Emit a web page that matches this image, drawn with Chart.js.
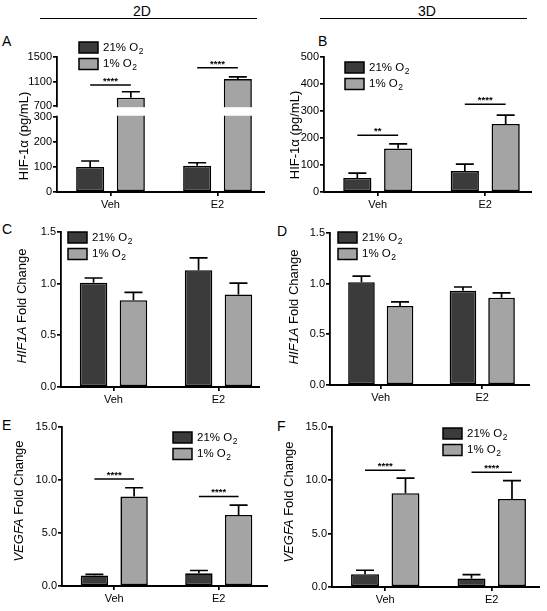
<!DOCTYPE html>
<html>
<head>
<meta charset="utf-8">
<script src="https://cdn.jsdelivr.net/npm/chart.js@4.4.0/dist/chart.umd.min.js"></script>
<style>
  body { margin: 0; background: #fff; }
  #wrap { position: relative; width: 547px; height: 611px; font-family: "Liberation Sans", Arial, sans-serif; color: #000; }
  canvas { position: absolute; left: 0; top: 0; }
  .lbl { position: absolute; font-size: 14px; line-height: 14px; }
  .hd { position: absolute; font-size: 14px; line-height: 14px; width: 60px; text-align: center; }
  .hline { position: absolute; height: 0; border-top: 1.5px solid #000; }
</style>
</head>
<body>
<div id="wrap">
  <div class="hd" style="left:112px;top:4px">2D</div>
  <div class="hline" style="left:40px;top:18px;width:217px"></div>
  <div class="hd" style="left:397px;top:4px">3D</div>
  <div class="hline" style="left:320px;top:18px;width:207px"></div>
  <div class="lbl" style="left:2px;top:34px">A</div>
  <div class="lbl" style="left:318px;top:34px">B</div>
  <div class="lbl" style="left:2px;top:222px">C</div>
  <div class="lbl" style="left:277px;top:224px">D</div>
  <div class="lbl" style="left:2px;top:418px">E</div>
  <div class="lbl" style="left:277px;top:419px">F</div>
  <canvas id="cA" width="547" height="611"></canvas>
  <canvas id="cB" width="547" height="611"></canvas>
  <canvas id="cC" width="547" height="611"></canvas>
  <canvas id="cD" width="547" height="611"></canvas>
  <canvas id="cE" width="547" height="611"></canvas>
  <canvas id="cF" width="547" height="611"></canvas>
</div>
<script>
var FONT = '"Liberation Sans", Arial, sans-serif';
var groups = ['Veh', 'E2'];
var seriesLabels = ['21% O₂', '1% O₂'];
var seriesColors = ['#3b3b3b', '#a4a4a4'];

// A - HIF-1a protein, 2D (broken axis)
var ticksA = [0, 100, 200, 300, 700, 1100, 1500];
var prot2D_21 = [100, 105];
var prot2D_21sem = [24, 12];
var prot2D_1 = [835, 1140];
var prot2D_1sem = [98, 37];
var sig2D = [1042, 1325];
var sigMarks2D = ['****', '****'];

// B - HIF-1a protein, 3D
var prot3D_21 = [52, 78];
var prot3D_21sem = [18, 25];
var prot3D_1 = [161, 252];
var prot3D_1sem = [17, 33];
var sig3D = [210, 325];
var sigMarks3D = ['**', '****'];

// C - HIF1A mRNA, 2D
var hif2D_21 = [1.01, 1.13];
var hif2D_21sem = [0.045, 0.12];
var hif2D_1 = [0.84, 0.895];
var hif2D_1sem = [0.075, 0.11];

// D - HIF1A mRNA, 3D
var hif3D_21 = [1.015, 0.93];
var hif3D_21sem = [0.06, 0.037];
var hif3D_1 = [0.78, 0.862];
var hif3D_1sem = [0.04, 0.048];

// E - VEGFA mRNA, 2D
var vegf2D_21 = [1.0, 1.2];
var vegf2D_21sem = [0.1, 0.26];
var vegf2D_1 = [8.45, 6.7];
var vegf2D_1sem = [0.82, 0.93];
var sigV2D = [10.1, 8.45];

// F - VEGFA mRNA, 3D
var vegf3D_21 = [1.2, 0.8];
var vegf3D_21sem = [0.37, 0.36];
var vegf3D_1 = [8.8, 8.25];
var vegf3D_1sem = [1.4, 1.72];
var sigV3D = [10.95, 10.75];
var sigMarksV = ['****', '****'];

// broken y axis for panel A: 0-300 below, 700-1500 above
var breakA = { lo: 300, hi: 700, loF: 0.556, hiF: 0.637 };

class BrokenScale extends Chart.LinearScale {
  getPixelForValue(v) {
    var b = breakA, f;
    if (v <= b.lo) f = v / b.lo * b.loF;
    else if (v >= b.hi) f = b.hiF + (v - b.hi) / (this.max - b.hi) * (1 - b.hiF);
    else f = b.loF + (v - b.lo) / (b.hi - b.lo) * (b.hiF - b.loF);
    return this.bottom - f * (this.bottom - this.top);
  }
  getValueForPixel(p) {
    var b = breakA, f = (this.bottom - p) / (this.bottom - this.top);
    if (f <= b.loF) return f / b.loF * b.lo;
    if (f >= b.hiF) return b.hi + (f - b.hiF) / (1 - b.hiF) * (this.max - b.hi);
    return b.lo + (f - b.loF) / (b.hiF - b.loF) * (b.hi - b.lo);
  }
}
BrokenScale.id = 'broken';
BrokenScale.defaults = Chart.LinearScale.defaults;
Chart.register(BrokenScale);

function drawO2(ctx, label, x, y) {
  var txt = label.replace('₂', '');
  ctx.font = '11.5px ' + FONT;
  ctx.textAlign = 'left';
  ctx.textBaseline = 'middle';
  ctx.fillText(txt, x, y);
  var w = ctx.measureText(txt).width;
  ctx.font = '8.5px ' + FONT;
  ctx.fillText('2', x + w + 0.5, y + 4);
}

var figPlugin = {
  id: 'fig',
  afterDatasetsDraw: function (chart, args, o) {
    var ctx = chart.ctx, ys = chart.scales.y, area = chart.chartArea;
    ctx.save();
    // x axis line (ends before the right edge of the category range)
    ctx.strokeStyle = '#000';
    ctx.lineWidth = 1.8;
    ctx.beginPath();
    ctx.moveTo(area.left - 0.9, area.bottom);
    ctx.lineTo(o.axisEnd, area.bottom);
    ctx.stroke();
    // gap of the broken axis
    if (o.brk) {
      var y1 = ys.getPixelForValue(breakA.hi) + 1.2, y2 = ys.getPixelForValue(breakA.lo) - 1.2;
      ctx.fillStyle = '#fff';
      ctx.fillRect(area.left - 2, y1, area.right - area.left + 4, y2 - y1);
    }
    // error bars (upper only)
    ctx.lineWidth = 1.7;
    chart.data.datasets.forEach(function (ds, di) {
      var meta = chart.getDatasetMeta(di);
      meta.data.forEach(function (bar, i) {
        var top = ys.getPixelForValue(ds.data[i] + ds.sem[i]);
        ctx.beginPath();
        ctx.moveTo(bar.x, bar.y);
        ctx.lineTo(bar.x, top);
        ctx.moveTo(bar.x - 9, top);
        ctx.lineTo(bar.x + 9, top);
        ctx.stroke();
      });
    });
    // significance lines
    if (o.sig) {
      var m0 = chart.getDatasetMeta(0), m1 = chart.getDatasetMeta(1);
      o.sig.forEach(function (lv, i) {
        var x1 = m0.data[i].x, x2 = m1.data[i].x, yy = ys.getPixelForValue(lv);
        ctx.lineWidth = 1.5;
        ctx.beginPath();
        ctx.moveTo(x1, yy);
        ctx.lineTo(x2, yy);
        ctx.stroke();
        ctx.fillStyle = '#000';
        ctx.font = 'bold 9.5px ' + FONT;
        ctx.textAlign = 'center';
        ctx.textBaseline = 'alphabetic';
        ctx.fillText(o.marks[i], (x1 + x2) / 2, yy - 1);
      });
    }
    // legend
    chart.data.datasets.forEach(function (ds, di) {
      var bx = o.legend.x, by = o.legend.y + di * 16.5;
      ctx.fillStyle = ds.backgroundColor;
      ctx.fillRect(bx, by, 19, 11);
      ctx.lineWidth = 1.5;
      ctx.strokeStyle = '#000';
      ctx.strokeRect(bx, by, 19, 11);
      ctx.fillStyle = '#000';
      drawO2(ctx, ds.label, bx + 24, by + 5.5);
    });
    // y title, partly italic
    var t = o.title;
    ctx.translate(t.x, t.y);
    ctx.rotate(-Math.PI / 2);
    ctx.fillStyle = '#000';
    ctx.textBaseline = 'middle';
    ctx.textAlign = 'left';
    ctx.font = 'italic 13px ' + FONT;
    var wi = t.it ? ctx.measureText(t.it).width : 0;
    ctx.font = '13px ' + FONT;
    var wr = ctx.measureText(t.rest).width;
    var sx = -(wi + wr) / 2;
    if (t.it) {
      ctx.font = 'italic 13px ' + FONT;
      ctx.fillText(t.it, sx, 0);
    }
    ctx.font = '13px ' + FONT;
    ctx.fillText(t.rest, sx + wi, 0);
    ctx.restore();
  }
};

var YW = 40, XH = 20;

function panel(id, c) {
  var g = c.geo;
  var yScale = {
    type: c.broken ? 'broken' : 'linear',
    min: 0, max: c.max,
    grid: { display: true, drawOnChartArea: false, tickLength: 4, color: '#000', lineWidth: 1.7 },
    border: { color: '#000', width: 1.8 },
    ticks: {
      color: '#000', font: { family: FONT, size: 11 }, padding: 1, autoSkip: false,
      stepSize: c.step,
      callback: function (v) { return c.dec ? Number(v).toFixed(1) : String(v); }
    },
    afterFit: function (s) { s.width = YW; }
  };
  if (c.broken) {
    yScale.afterBuildTicks = function (s) { s.ticks = ticksA.map(function (v) { return { value: v }; }); };
  }
  var bar = { borderColor: '#000', borderWidth: 1.6, borderSkipped: false, barPercentage: 0.69, categoryPercentage: 0.76 };
  new Chart(document.getElementById(id), {
    type: 'bar',
    data: {
      labels: groups,
      datasets: [
        Object.assign({ label: seriesLabels[0], data: c.d21, sem: c.e21, backgroundColor: seriesColors[0] }, bar),
        Object.assign({ label: seriesLabels[1], data: c.d1, sem: c.e1, backgroundColor: seriesColors[1] }, bar)
      ]
    },
    options: {
      responsive: false,
      animation: false,
      events: [],
      layout: { padding: { left: g.ax - YW, top: g.top, right: 547 - g.right, bottom: 611 - g.bottom - XH } },
      scales: {
        x: {
          type: 'category', offset: true,
          grid: { display: true, drawOnChartArea: false, offset: false, tickLength: 4, color: '#000', lineWidth: 1.7 },
          border: { display: false },
          ticks: { color: '#000', font: { family: FONT, size: 11 }, padding: 2, maxRotation: 0 },
          afterFit: function (s) { s.height = XH; }
        },
        y: yScale
      },
      plugins: {
        legend: { display: false },
        tooltip: { enabled: false },
        fig: { brk: c.broken, sig: c.sig, marks: c.marks, legend: c.legend, title: c.title, axisEnd: g.axisEnd }
      }
    },
    plugins: [figPlugin]
  });
}

panel('cA', { geo: { ax: 57, top: 57, right: 271, bottom: 192, axisEnd: 265 }, broken: true, max: 1500,
  d21: prot2D_21, e21: prot2D_21sem, d1: prot2D_1, e1: prot2D_1sem, sig: sig2D, marks: sigMarks2D,
  legend: { x: 79, y: 42 }, title: { x: 24, y: 136, it: '', rest: 'HIF-1α (pg/mL)' } });

panel('cB', { geo: { ax: 324, top: 57, right: 539, bottom: 192, axisEnd: 532 }, max: 500, step: 100,
  d21: prot3D_21, e21: prot3D_21sem, d1: prot3D_1, e1: prot3D_1sem, sig: sig3D, marks: sigMarks3D,
  legend: { x: 345, y: 62 }, title: { x: 295, y: 135, it: '', rest: 'HIF-1α (pg/mL)' } });

panel('cC', { geo: { ax: 61, top: 232, right: 271, bottom: 387, axisEnd: 260 }, max: 1.5, step: 0.5, dec: true,
  d21: hif2D_21, e21: hif2D_21sem, d1: hif2D_1, e1: hif2D_1sem,
  legend: { x: 68, y: 232 }, title: { x: 22, y: 306, it: 'HIF1A', rest: ' Fold Change' } });

panel('cD', { geo: { ax: 330, top: 233, right: 533, bottom: 385, axisEnd: 530 }, max: 1.5, step: 0.5, dec: true,
  d21: hif3D_21, e21: hif3D_21sem, d1: hif3D_1, e1: hif3D_1sem,
  legend: { x: 338, y: 232 }, title: { x: 294, y: 307, it: 'HIF1A', rest: ' Fold Change' } });

panel('cE', { geo: { ax: 62, top: 427, right: 271, bottom: 586, axisEnd: 268 }, max: 15, step: 5, dec: true,
  d21: vegf2D_21, e21: vegf2D_21sem, d1: vegf2D_1, e1: vegf2D_1sem, sig: sigV2D, marks: sigMarksV,
  legend: { x: 173, y: 432 }, title: { x: 19, y: 501, it: 'VEGFA', rest: ' Fold Change' } });

panel('cF', { geo: { ax: 332, top: 427, right: 545, bottom: 587, axisEnd: 540 }, max: 15, step: 5, dec: true,
  d21: vegf3D_21, e21: vegf3D_21sem, d1: vegf3D_1, e1: vegf3D_1sem, sig: sigV3D, marks: sigMarksV,
  legend: { x: 443, y: 428 }, title: { x: 289, y: 502, it: 'VEGFA', rest: ' Fold Change' } });
</script>
</body>
</html>
